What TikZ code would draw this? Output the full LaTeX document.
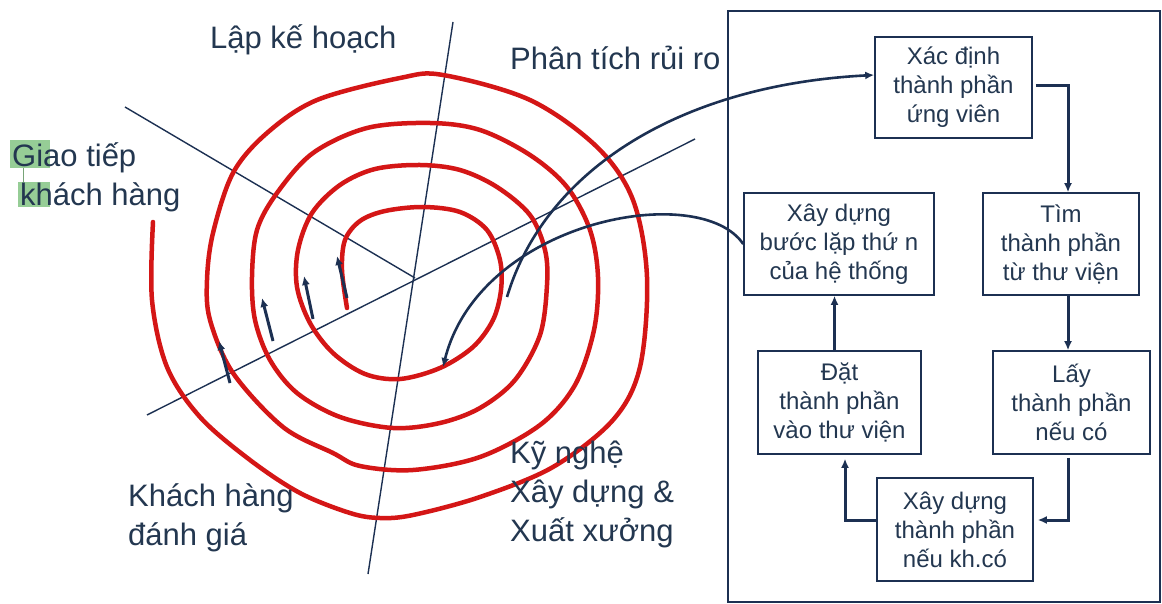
\documentclass[tikz,border=0pt]{standalone}
\usepackage{fontspec}
\setmainfont{Liberation Sans}
\usetikzlibrary{arrows.meta,calc}
\definecolor{navy}{RGB}{28,48,82}
\definecolor{txt}{RGB}{35,55,80}
\definecolor{spir}{RGB}{212,22,22}
\definecolor{hl}{RGB}{150,205,150}
\begin{document}
\begin{tikzpicture}[x=1pt,y=-1pt,
  lbl/.style={text=txt, font=\fontsize{31}{39}\selectfont, align=left, inner sep=0pt, anchor=west},
  boxn/.style={draw=navy, line width=1.6pt, text=txt, font=\fontsize{24}{29}\selectfont, align=center, inner sep=0pt},
  axisline/.style={draw=navy, line width=1.4pt},
  flow/.style={draw=navy, line width=3pt, -{Latex[length=9pt,width=8pt]}},
  curv/.style={draw=navy, line width=2.6pt, -{Latex[length=9pt,width=8pt]}},
  sarrow/.style={draw=navy, line width=3pt, -{Latex[length=9pt,width=8pt]}},
  spiral/.style={draw=spir, line width=4.5pt, line cap=round}
]
\useasboundingbox[fill=white] (0,0) rectangle (1162,604);

% highlights
\fill[hl] (10,140) rectangle (50,168);
\fill[hl] (18,182) rectangle (50,207);
\draw[hl!80!black, line width=0.8pt] (23,168) -- (23,182);

% axes
\coordinate (c) at (415,278);
\coordinate (a1) at (125,107);
\coordinate (b1t) at (453,22);
\coordinate (b1b) at (368,574);
\coordinate (l1) at (147,415);
\coordinate (l2) at (695,139);
\draw[axisline] (a1) -- (c);
\draw[axisline] (b1t) -- (b1b);
\draw[axisline] (l1) -- (l2);

% spiral
\draw[spiral] plot[smooth, tension=0.55] coordinates {
(347,308) (342,270) (345,240) (360,221) (385,211) (423,207) (460,212) (487,230)
(500,260) (501,290) (493,320) (473,347) (440,368) (400,379) (365,374) (333,353)
(310,323) (297,287) (298,250) (312,213) (340,185) (375,169) (420,165) (460,170)
(497,187) (530,215) (545,250) (547,285) (540,335) (515,380) (480,408) (440,423)
(393,428) (340,417) (297,393) (270,360) (255,320) (252,277) (257,230) (277,193)
(313,153) (367,128) (430,123) (480,130) (530,155) (567,187) (590,230) (598,277)
(594,330) (575,385) (540,425) (480,457) (413,470) (360,466) (333,453) (283,427)
(233,373) (210,320) (207,280) (213,233) (233,173) (267,133) (317,100) (400,78)
(443,75) (530,100) (597,147) (633,200) (647,277) (640,367) (613,420) (553,467)
(480,497) (413,515) (380,518) (350,513) (300,493) (250,460) (200,417) (167,367)
(152,300) (153,222)};

% small direction arrows
\draw[sarrow] (230,383) -- (219,341);
\draw[sarrow] (273,341) -- (262,298);
\draw[sarrow] (313,319) -- (304,276);
\draw[sarrow] (347,298) -- (337,256);

% right panel
\draw[navy, line width=2pt] (728,11) rectangle (1160,602);
\node[boxn, minimum width=157pt, minimum height=101pt] (b1) at (953.5,87.5) {Xác định\\thành phần\\ứng viên};
\node[boxn, minimum width=190pt, minimum height=102pt] (b2) at (839,244) {Xây dựng\\bước lặp thứ n\\của hệ thống};
\node[boxn, minimum width=156pt, minimum height=102pt] (b3) at (1061,244) {Tìm\\thành phần\\từ thư viện};
\node[boxn, minimum width=163pt, minimum height=103pt] (b4) at (839.5,402.5) {Đặt\\thành phần\\vào thư viện};
\node[boxn, minimum width=157pt, minimum height=103pt] (b5) at (1071.5,402.5) {Lấy\\thành phần\\nếu có};
\node[boxn, minimum width=156pt, minimum height=103pt] (b6) at (955,529.5) {Xây dựng\\thành phần\\nếu kh.có};

\draw[flow] ([xshift=3pt,yshift=1.5pt]b1.east) -| ([xshift=7pt]b3.north);
\draw[flow] ([xshift=7pt]b3.south) -- ([xshift=-3.5pt]b5.north);
\draw[flow] ([xshift=-3.5pt,yshift=-3pt]b5.south) |- ([xshift=4pt,yshift=9.5pt]b6.east);
\draw[flow] ([yshift=9.5pt]b6.west) -| ([xshift=5.5pt,yshift=-4pt]b4.south);
\draw[flow] ([xshift=-5pt]b4.north) -- ([xshift=-4.5pt]b2.south);

% curved connectors
\coordinate (s1) at (507,297);
\coordinate (s2) at (443,367);
\draw[curv] (s1) .. controls (545,170) and (680,85) .. ([yshift=12.5pt]b1.west);
\draw[curv] (b2.west) .. controls (700,180) and (480,220) .. (s2);

% labels
\node[lbl] (t1) at (210,40) {Lập kế hoạch};
\node[lbl] (t2) at (510,58) {Phân tích rủi ro};
\node[lbl] (t3) at (12,177) {Giao tiếp\\\hspace{8pt}khách hàng};
\node[lbl] (t4) at (128,518) {Khách hàng\\đánh giá};
\node[lbl] (t5) at (510,494) {Kỹ nghệ\\Xây dựng \&\\Xuất xưởng};
\end{tikzpicture}
\end{document}
